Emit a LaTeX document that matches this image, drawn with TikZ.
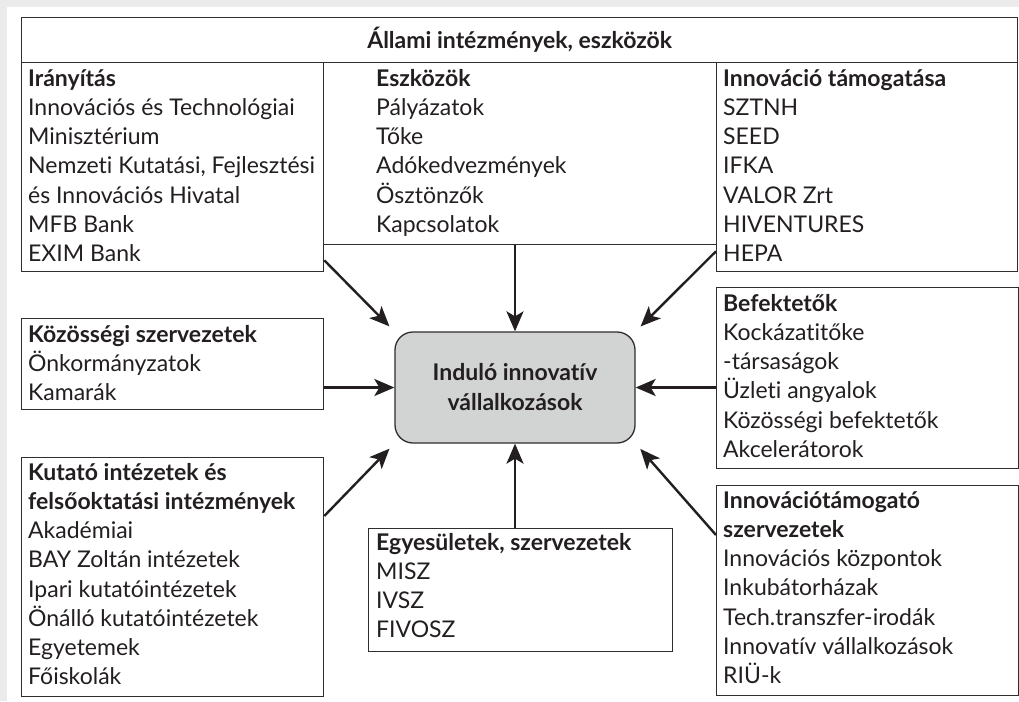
\documentclass[tikz,border=0pt]{standalone}
\usepackage{fontspec}
\setmainfont{Lato}[Ligatures=NoCommon]
\usetikzlibrary{positioning,arrows.meta}
\definecolor{inkgray}{HTML}{231F20}
\definecolor{linegray}{HTML}{2E2E2E}
\definecolor{hubfill}{HTML}{D2D3D3}
\definecolor{framegray}{HTML}{EBEBEB}
\newcommand{\firstline}{\rule{0pt}{22pt}}

\begin{document}
\begin{tikzpicture}[
  x=1pt, y=-1pt,
  box/.style={draw=linegray, line width=1.3pt, anchor=north west, inner sep=0pt},
  txt/.style={anchor=north west, align=left, inner sep=0pt, text=inkgray,
    font=\fontsize{23}{29.2}\selectfont},
  hub/.style={draw=linegray, line width=1.3pt, fill=hubfill, rounded corners=18pt,
    align=center, text=inkgray, font=\fontsize{23}{30}\selectfont\bfseries},
  link/.style={draw=inkgray, line width=2.4pt,
    -{Stealth[length=20pt, width=17pt, inset=5pt]}},
]
\useasboundingbox (0,0) rectangle (1019,701);
\fill[framegray] (0,0) rectangle (1019,701);
\fill[white] (7,7) rectangle (1019,701);

% state institutions on top
\node[box, minimum width=996, minimum height=45, text=inkgray,
  font=\fontsize{23}{29.2}\selectfont\bfseries] (allami) at (21,17)
  {Állami intézmények, eszközök};
\node[box, minimum width=302, minimum height=209] (iranyitas) at (21,62) {};
\node[box, minimum width=393, minimum height=182] (eszkozok) at (323,62) {};
\node[box, minimum width=301, minimum height=209] (tamogatas) at (716,62) {};

% the other actors
\node[box, minimum width=302, minimum height=91] (kozossegi) at (21,318) {};
\node[box, minimum width=302, minimum height=239] (kutato) at (21,457) {};
\node[box, minimum width=304, minimum height=123] (egyesulet) at (368,528) {};
\node[box, minimum width=302, minimum height=181] (befekteto) at (716,287) {};
\node[box, minimum width=302, minimum height=210] (innotam) at (716,485) {};

\node[hub, minimum width=240, minimum height=111] (indulo) at (515,387.5)
  {Induló innovatív\\vállalkozások};

% box texts (first baseline about 24pt below the box top)
\node[txt] (iranyitas-t) at ([xshift=7pt, yshift=-2pt]iranyitas.north west)
  {\firstline\textbf{Irányítás}\\Innovációs és Technológiai\\Minisztérium\\
   Nemzeti Kutatási, Fejlesztési\\és Innovációs Hivatal\\MFB Bank\\EXIM Bank};
\node[txt] (eszkozok-t) at ([xshift=53pt, yshift=-2pt]eszkozok.north west)
  {\firstline\textbf{Eszközök}\\Pályázatok\\Tőke\\Adókedvezmények\\Ösztönzők\\Kapcsolatok};
\node[txt] (tamogatas-t) at ([xshift=7pt, yshift=-2pt]tamogatas.north west)
  {\firstline\textbf{Innováció támogatása}\\SZTNH\\SEED\\IFKA\\VALOR Zrt\\HIVENTURES\\HEPA};
\node[txt] (kozossegi-t) at ([xshift=7pt, yshift=-2pt]kozossegi.north west)
  {\firstline\textbf{Közösségi szervezetek}\\Önkormányzatok\\Kamarák};
\node[txt] (kutato-t) at ([xshift=7pt, yshift=-1pt]kutato.north west)
  {\firstline\textbf{Kutató intézetek és}\\\textbf{felsőoktatási intézmények}\\Akadémiai\\
   BAY Zoltán intézetek\\Ipari kutatóintézetek\\Önálló kutatóintézetek\\
   Egyetemek\\Főiskolák};
\node[txt] (egyesulet-t) at ([xshift=8pt, yshift=0pt]egyesulet.north west)
  {\firstline\textbf{Egyesületek, szervezetek}\\MISZ\\IVSZ\\FIVOSZ};
\node[txt] (befekteto-t) at ([xshift=7pt, yshift=-2pt]befekteto.north west)
  {\firstline\textbf{Befektetők}\\Kockázatitőke\\-társaságok\\Üzleti angyalok\\
   Közösségi befektetők\\Akcelerátorok};
\node[txt] (innotam-t) at ([xshift=7pt, yshift=-1pt]innotam.north west)
  {\firstline\textbf{Innovációtámogató}\\\textbf{szervezetek}\\Innovációs központok\\
   Inkubátorházak\\Tech.transzfer-irodák\\Innovatív vállalkozások\\RIÜ-k};

% arrows into the hub
\draw[link, shorten >=7pt] ([yshift=12pt]iranyitas.south east) -- (indulo.north west);
\draw[link] (eszkozok.south -| indulo.north) -- (indulo.north);
\draw[link, shorten >=7pt] ([yshift=21pt]tamogatas.south west) -- (indulo.north east);
\draw[link] (kozossegi.east |- indulo.west) -- (indulo.west);
\draw[link] (befekteto.west |- indulo.east) -- (indulo.east);
\draw[link, shorten >=7pt] ([yshift=-59pt]kutato.north east) -- (indulo.south west);
\draw[link] (egyesulet.north -| indulo.south) -- (indulo.south);
\draw[link, shorten >=7pt] ([yshift=-50pt]innotam.north west) -- (indulo.south east);
\end{tikzpicture}
\end{document}
